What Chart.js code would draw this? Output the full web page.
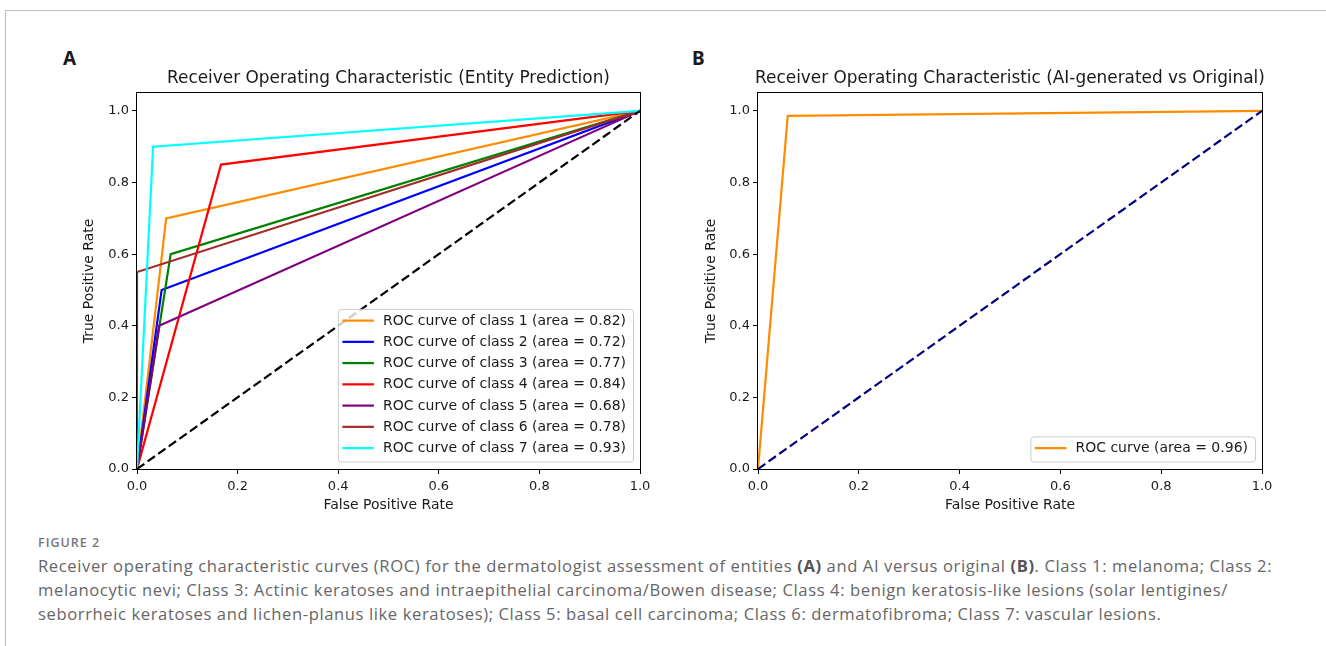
<!DOCTYPE html>
<html>
<head>
<meta charset="utf-8">
<script src="https://cdn.jsdelivr.net/npm/chart.js@4.4.1/dist/chart.umd.min.js"></script>
<style>
    html, body { margin: 0; padding: 0; background: #fff; }
    body { width: 1326px; height: 646px; position: relative; overflow: hidden; }
    .frame { position: absolute; left: 5px; top: 10px; width: 1340px; height: 700px;
        border-top: 1px solid #bdbdbd; border-left: 1px solid #bdbdbd; }
    .tag { position: absolute; font-family: 'Noto Sans', sans-serif; font-weight: bold;
        font-size: 19px; line-height: 20px; color: #1a1a1a; }
    #wrapA { position: absolute; left: 0; top: 0; width: 777px; height: 530px; }
    #wrapB { position: absolute; left: 694px; top: 0; width: 632px; height: 530px; }
    .fig { position: absolute; left: 38px; top: 535px; font-family: 'Open Sans', sans-serif;
        font-size: 12.5px; line-height: 16px; color: #777; font-weight: 600; letter-spacing: 1px; }
    .caption { position: absolute; left: 38px; top: 554px; font-family: 'Open Sans', sans-serif;
        font-size: 16.6px; line-height: 24px; color: #666; white-space: nowrap; letter-spacing: 0.6px; }
    .caption b { color: #555; }
</style>
</head>
<body>
<div class="frame"></div>
<div class="tag" style="left:63px;top:48px;">A</div>
<div class="tag" style="left:692px;top:48px;">B</div>
<div id="wrapA"><canvas id="chartA" width="777" height="530"></canvas></div>
<div id="wrapB"><canvas id="chartB" width="632" height="530"></canvas></div>
<div class="fig">FIGURE 2</div>
<div class="caption">
Receiver operating characteristic curves (ROC) for the dermatologist assessment of entities <b>(A)</b> and AI versus original <b>(B)</b>. Class 1: melanoma; Class 2:<br>
melanocytic nevi; Class 3: Actinic keratoses and intraepithelial carcinoma/Bowen disease; Class 4: benign keratosis-like lesions (solar lentigines/<br>
seborrheic keratoses and lichen-planus like keratoses); Class 5: basal cell carcinoma; Class 6: dermatofibroma; Class 7: vascular lesions.
</div>
<script>
// panel A: one roc curve per class
const classFpr = [
    [0, 0.058, 1],
    [0, 0.049, 1],
    [0, 0.067, 1],
    [0, 0.167, 1],
    [0, 0.044, 1],
    [0, 0, 1],
    [0, 0.032, 1]
];
const classTpr = [
    [0, 0.70, 1],
    [0, 0.50, 1],
    [0, 0.60, 1],
    [0, 0.85, 1],
    [0, 0.40, 1],
    [0, 0.55, 1],
    [0, 0.90, 1]
];
const classAuc = [0.82, 0.72, 0.77, 0.84, 0.68, 0.78, 0.93];

// panel B: ai-generated vs original
const fprB = [0, 0.059, 1];
const tprB = [0, 0.986, 1];
const aucB = 0.96;

const chanceLine = [0, 1];
const tickValues = [0, 0.2, 0.4, 0.6, 0.8, 1.0];

const classColors = ['#ff8c00', '#0000ff', '#008000', '#ff0000', '#800080', '#a52a2a', '#00ffff'];
const FONT = 'DejaVu Sans';
const INK = '#1a1a1a';

const toPoints = (xs, ys) => xs.map((x, i) => ({x, y: ys[i]}));

// spines on all four sides + matplotlib style legend box in the lower right
const framePlugin = {
    id: 'framePlugin',
    afterDatasetsDraw(chart, args, opts) {
        const {ctx, chartArea: a} = chart;
        ctx.save();
        const items = opts.items || [];
        if (items.length) {
            ctx.font = `14px "${FONT}"`;
            const tw = Math.max(...items.map(it => ctx.measureText(it.text).width));
            const rowH = 21.25;
            const right = a.right - 7;
            const bottom = a.bottom - 7.5;
            const h = 11.7 + (items.length - 1) * rowH + 13.4;
            const w = 45 + tw + 7;
            const left = right - w;
            const top = bottom - h;
            ctx.beginPath();
            ctx.roundRect(left + 0.5, top + 0.5, w, h, 3);
            ctx.fillStyle = 'rgba(255,255,255,0.8)';
            ctx.fill();
            ctx.strokeStyle = '#cccccc';
            ctx.lineWidth = 1;
            ctx.stroke();
            items.forEach((it, i) => {
                const cy = top + 11.7 + i * rowH;
                ctx.beginPath();
                ctx.moveTo(left + 4.5, cy);
                ctx.lineTo(left + 36, cy);
                ctx.strokeStyle = it.color;
                ctx.lineWidth = 2.2;
                ctx.stroke();
                ctx.fillStyle = INK;
                ctx.textBaseline = 'middle';
                ctx.textAlign = 'left';
                ctx.fillText(it.text, left + 45, cy + 0.5);
            });
        }
        ctx.strokeStyle = '#000';
        ctx.lineWidth = 1;
        ctx.strokeRect(Math.round(a.left) - 0.5, Math.round(a.top) - 0.5,
            Math.round(a.right - a.left) + 1, Math.round(a.bottom - a.top) + 1);
        ctx.restore();
    }
};

const makeOptions = (title, yWidth, yTitlePad, legendItems) => ({
    responsive: false,
    animation: false,
    devicePixelRatio: 1,
    layout: {padding: {top: 68, right: 0, bottom: 0, left: 0}},
    plugins: {
        legend: {display: false},
        tooltip: {enabled: false},
        title: {
            display: true,
            text: title,
            color: INK,
            font: {family: FONT, size: 16.9, weight: 'normal', lineHeight: 1.2},
            padding: {top: 0, bottom: 4.7}
        },
        framePlugin: {items: legendItems}
    },
    scales: {
        x: {
            type: 'linear',
            min: 0,
            max: 1,
            afterFit: s => { s.height = 61; },
            afterBuildTicks: s => { s.ticks = tickValues.map(v => ({value: v})); },
            border: {display: false},
            grid: {display: true, drawOnChartArea: false, drawTicks: true, tickLength: 5, tickColor: '#000'},
            ticks: {color: INK, font: {family: FONT, size: 13}, padding: 5, maxRotation: 0,
                callback: v => v.toFixed(1)},
            title: {display: true, text: 'False Positive Rate', color: INK,
                font: {family: FONT, size: 14}, padding: {top: 0, bottom: 16.6}}
        },
        y: {
            type: 'linear',
            min: 0,
            max: 1.05,
            afterFit: s => { s.width = yWidth; },
            afterBuildTicks: s => { s.ticks = tickValues.map(v => ({value: v})); },
            border: {display: false},
            grid: {display: true, drawOnChartArea: false, drawTicks: true, tickLength: 5, tickColor: '#000'},
            ticks: {color: INK, font: {family: FONT, size: 13}, padding: 3,
                callback: v => v.toFixed(1)},
            title: {display: true, text: 'True Positive Rate', color: INK,
                font: {family: FONT, size: 14}, padding: {top: yTitlePad - 0.6, bottom: 0}}
        },
        // empty axis on the right keeps the plot centred under its title
        spacer: {
            type: 'linear',
            position: 'right',
            display: true,
            afterFit: s => { s.width = yWidth; },
            border: {display: false},
            grid: {display: false},
            ticks: {display: false}
        }
    }
});

const boot = () => {
    // later curves sit on top, like matplotlib
    const datasetsA = classFpr.map((fpr, i) => ({
        data: toPoints(fpr, classTpr[i]),
        borderColor: classColors[i],
        borderWidth: 2.2,
        pointRadius: 0,
        showLine: true,
        order: 20 - i
    }));
    datasetsA.push({
        data: toPoints(chanceLine, chanceLine),
        borderColor: '#000',
        borderWidth: 2.2,
        borderDash: [9, 4],
        pointRadius: 0,
        showLine: true,
        order: 0
    });
    const legendA = classAuc.map((auc, i) => ({
        text: `ROC curve of class ${i + 1} (area = ${auc.toFixed(2)})`,
        color: classColors[i]
    }));

    new Chart(document.getElementById('chartA'), {
        type: 'scatter',
        data: {datasets: datasetsA},
        options: makeOptions('Receiver Operating Characteristic (Entity Prediction)', 137, 82, legendA),
        plugins: [framePlugin]
    });

    const datasetsB = [
        {
            data: toPoints(fprB, tprB),
            borderColor: '#ff8c00',
            borderWidth: 2.2,
            pointRadius: 0,
            showLine: true,
            order: 2
        },
        {
            data: toPoints(chanceLine, chanceLine),
            borderColor: '#000080',
            borderWidth: 2.2,
            borderDash: [9, 4],
            pointRadius: 0,
            showLine: true,
            order: 1
        }
    ];
    const legendB = [{text: `ROC curve (area = ${aucB.toFixed(2)})`, color: '#ff8c00'}];

    new Chart(document.getElementById('chartB'), {
        type: 'scatter',
        data: {datasets: datasetsB},
        options: makeOptions('Receiver Operating Characteristic (AI-generated vs Original)', 64, 10, legendB),
        plugins: [framePlugin]
    });
};

window.addEventListener('DOMContentLoaded', boot);
</script>
</body>
</html>
